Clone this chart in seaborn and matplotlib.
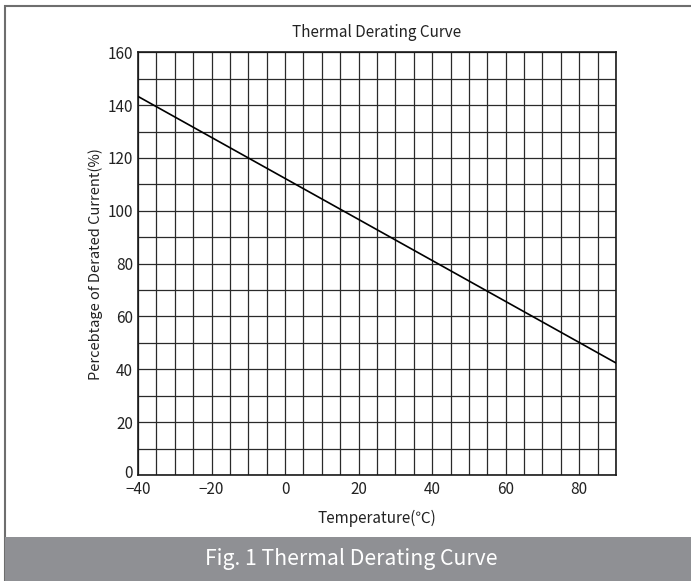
import matplotlib
matplotlib.use('Agg')
import matplotlib.pyplot as plt
import matplotlib.transforms as mtransforms
from matplotlib.patches import Rectangle
import numpy as np
import pandas as pd
import seaborn as sns

# data
temperature = [-40, 90]
current_pct = [143.3, 42.4]

x_ticks = [-40, -20, 0, 20, 40, 60, 80]
y_ticks = [0, 20, 40, 60, 80, 100, 120, 140, 160]

sns.set_theme(style='white')
plt.rcParams['font.family'] = ['Noto Sans CJK SC', 'DejaVu Sans']

W, H = 691, 581
fig = plt.figure(figsize=(W / 100, H / 100), dpi=100)

# outer frame and caption banner (pixel coords converted to figure fractions)
fig.patches.append(Rectangle((5 / W, 0), 1, 1 - 5.5 / H, transform=fig.transFigure,
                             fill=False, edgecolor='#6e6e6e', linewidth=1.5, zorder=0))
fig.patches.append(Rectangle((5 / W, 0), 1, (H - 537) / H, transform=fig.transFigure,
                             facecolor='#8f9094', edgecolor='none', zorder=1))
fig.text(0.508, (H - 559) / H, 'Fig. 1 Thermal Derating Curve', color='white',
         fontsize=15.3, ha='center', va='center')

ax = fig.add_axes([138 / W, 1 - 475 / H, (616 - 138) / W, (475 - 52.3) / H])

df = pd.DataFrame({'Temperature': temperature, 'Current': current_pct})
sns.lineplot(data=df, x='Temperature', y='Current', ax=ax, color='black', linewidth=1.2, zorder=3)

ax.set_xlim(-40, 90)
ax.set_ylim(0, 160)
ax.set_xticks(x_ticks)
ax.set_yticks(y_ticks)
ax.set_xticks(np.arange(-40, 91, 5), minor=True)
ax.set_yticks(np.arange(0, 161, 10), minor=True)
ax.grid(which='both', color='#2a2a2a', linewidth=0.9)
ax.tick_params(which='both', length=0, labelsize=11, colors='#222222', pad=3.5)
ax.tick_params(axis='x', pad=4)
for s in ax.spines.values():
    s.set_color('#1a1a1a')
    s.set_linewidth(1.2)

# lift the "0" on the y axis a little so it clears the "-40" below it
zero_lbl = ax.get_yticklabels()[0]
zero_lbl.set_transform(zero_lbl.get_transform() +
                       mtransforms.ScaledTranslation(0, 3 / 100, fig.dpi_scale_trans))

ax.set_title('Thermal Derating Curve', fontsize=11, color='#222222', pad=11)
ax.set_xlabel('Temperature(℃)', fontsize=11, color='#222222', labelpad=9)
ax.set_ylabel('Percebtage of Derated Current(%)', fontsize=10.5, color='#222222', labelpad=3)

fig.savefig('out.png', dpi=100)
